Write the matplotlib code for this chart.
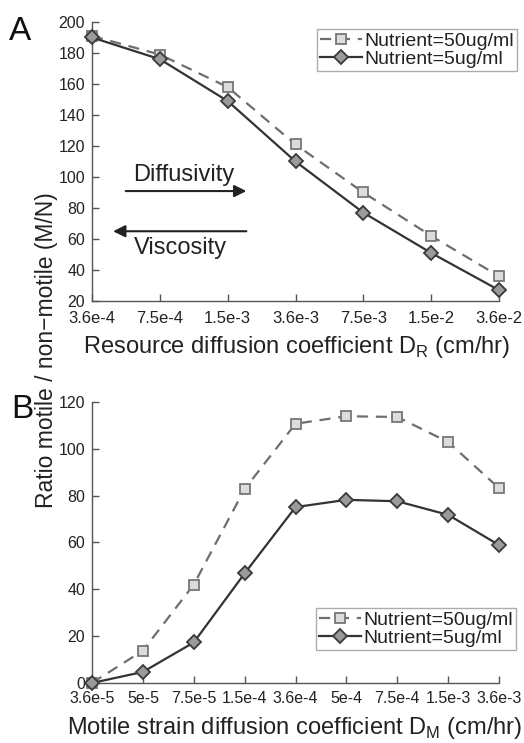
import matplotlib
matplotlib.use("Agg")
import matplotlib.pyplot as plt

plt.rcParams['font.family'] = ['Liberation Sans', 'DejaVu Sans']
plt.rcParams['mathtext.fontset'] = 'custom'
plt.rcParams['mathtext.rm'] = 'Liberation Sans'

# panel A: resource diffusion
dr_labels = ["3.6e-4", "7.5e-4", "1.5e-3", "3.6e-3", "7.5e-3", "1.5e-2", "3.6e-2"]
a_50 = [191, 179, 158, 121, 90, 62, 36]
a_5 = [190, 176, 149, 110, 77, 51, 27]

# panel B: motile strain diffusion
dm_labels = ["3.6e-5", "5e-5", "7.5e-5", "1.5e-4", "3.6e-4", "5e-4", "7.5e-4", "1.5e-3", "3.6e-3"]
b_50 = [0, 13.8, 42, 82.8, 110.7, 113.9, 113.6, 102.9, 83.2]
b_5 = [0, 4.7, 17.3, 46.8, 75.1, 78.2, 77.6, 71.8, 58.9]

legend_names = ["Nutrient=50ug/ml", "Nutrient=5ug/ml"]

fig = plt.figure(figsize=(5.24, 7.43), dpi=100)
axA = fig.add_axes([0.1756, 0.5949, 0.7767, 0.3755])
axB = fig.add_axes([0.1756, 0.0808, 0.7767, 0.3782])

style_50 = dict(color='#6e6e6e', linestyle=(0, (5, 3.5)), linewidth=1.6, marker='s',
                markersize=7.5, markerfacecolor='#dcdcdc', markeredgecolor='#777777',
                markeredgewidth=1.3, clip_on=False, zorder=3)
style_5 = dict(color='#333333', linestyle='-', linewidth=1.6, marker='D',
               markersize=7, markerfacecolor='#9a9a9a', markeredgecolor='#3a3a3a',
               markeredgewidth=1.3, clip_on=False, zorder=4)

def setup(ax, labels, ylim, yticks):
    x = list(range(len(labels)))
    ax.set_xlim(0, len(labels) - 1)
    ax.set_ylim(*ylim)
    ax.set_xticks(x)
    ax.set_xticklabels(labels)
    ax.set_yticks(yticks)
    for s in ['top', 'right']:
        ax.spines[s].set_visible(False)
    for s in ['left', 'bottom']:
        ax.spines[s].set_color('#555555')
        ax.spines[s].set_linewidth(1.0)
    ax.tick_params(direction='in', length=5, width=1.0, color='#555555',
                   labelcolor='#222222')
    ax.tick_params(axis='x', pad=7, labelsize=12)
    ax.tick_params(axis='y', pad=5, labelsize=11.5)
    return x

xA = setup(axA, dr_labels, (20, 200), range(20, 201, 20))
lA1, = axA.plot(xA, a_50, **style_50)
lA2, = axA.plot(xA, a_5, **style_5)
axA.set_xlabel(r"Resource diffusion coefficient D$_\mathregular{R}$ (cm/hr)",
               fontsize=17, color='#222222', va='center')
axA.xaxis.set_label_coords(0.502, -0.165)

xB = setup(axB, dm_labels, (0, 120), range(0, 121, 20))
lB1, = axB.plot(xB, b_50, **style_50)
lB2, = axB.plot(xB, b_5, **style_5)
axB.set_xlabel(r"Motile strain diffusion coefficient D$_\mathregular{M}$ (cm/hr)",
               fontsize=17, color='#222222', va='center')
axB.xaxis.set_label_coords(0.497, -0.162)
axB.tick_params(axis='x', labelsize=11.5, pad=6)

for ax, h, anchor in [(axA, [lA1, lA2], (0.9866, 0.961)), (axB, [lB1, lB2], (0.9847, 0.1817))]:
    leg = ax.legend(h, legend_names, loc='upper right', bbox_to_anchor=anchor,
                    bbox_transform=fig.transFigure, fontsize=14, frameon=True,
                    fancybox=False, handlelength=2.2, handletextpad=0.1,
                    borderpad=0.15, labelspacing=0.05, borderaxespad=0)
    leg.get_frame().set_edgecolor('#999999')
    leg.get_frame().set_linewidth(1.0)
    for t in leg.get_texts():
        t.set_color('#222222')

# arrows in panel A
axA.annotate('', xy=(0.386, 0.394), xytext=(0.076, 0.394), xycoords='axes fraction',
             arrowprops=dict(arrowstyle='-|>', color='#222222', lw=1.5, mutation_scale=18))
axA.text(0.225, 0.452, "Diffusivity", transform=axA.transAxes, fontsize=17,
         ha='center', va='center', color='#222222')
axA.annotate('', xy=(0.045, 0.25), xytext=(0.386, 0.25), xycoords='axes fraction',
             arrowprops=dict(arrowstyle='-|>', color='#222222', lw=1.5, mutation_scale=18))
axA.text(0.218, 0.19, "Viscosity", transform=axA.transAxes, fontsize=17,
         ha='center', va='center', color='#222222')

fig.text(0.088, 0.529, "Ratio motile / non−motile (M/N)", rotation=90, fontsize=16.5,
         ha='center', va='center', color='#222222')
fig.text(0.038, 0.958, "A", fontsize=24, ha='center', va='center', color='#111111')
fig.text(0.042, 0.449, "B", fontsize=24, ha='center', va='center', color='#111111')

fig.savefig("out.png", dpi=100)
